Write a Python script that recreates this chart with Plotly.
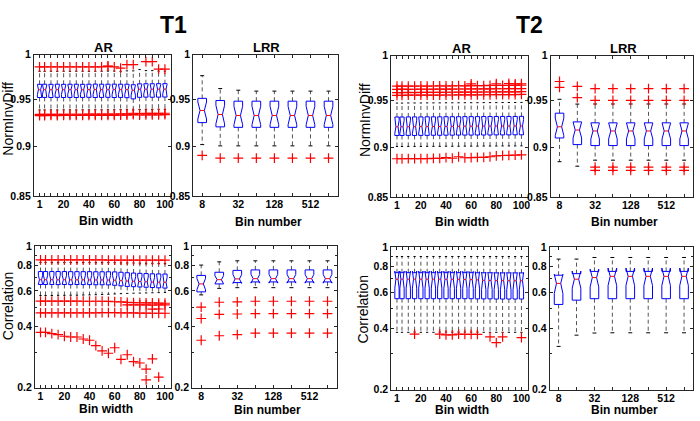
import math
import plotly.graph_objects as go

# ---------------- data ----------------
ar_widths = [1, 5, 10, 15, 20, 25, 30, 35, 40, 45, 50, 55, 60, 65, 70, 75, 80, 85, 90, 95, 100]
ar_labels = ["1", "", "", "", "20", "", "", "", "40", "", "", "", "60", "", "", "", "80", "", "", "", "100"]
lrr_bins = [8, 16, 32, 64, 128, 256, 512, 1024]
lrr_labels = ["8", "", "32", "", "128", "", "512", ""]

nid_ticks = [0.85, 0.9, 0.95, 1]
nid_ticktext = ["0.85", "0.9", "0.95", "1"]
cor_ticks = [0.2, 0.4, 0.6, 0.8, 1]
cor_ticktext = ["0.2", "0.4", "0.6", "0.8", "1"]

# T1 - AR - NormInvDiff
t1_ar_nid_q1 = [0.9520, 0.9521, 0.9520, 0.9522, 0.9520, 0.9521, 0.9520, 0.9521, 0.9522, 0.9520, 0.9521,
                0.9522, 0.9520, 0.9521, 0.9518, 0.9505, 0.9522, 0.9524, 0.9523, 0.9524, 0.9525]
t1_ar_nid_med = [0.9605, 0.9606, 0.9605, 0.9606, 0.9605, 0.9606, 0.9606, 0.9605, 0.9606, 0.9607, 0.9606,
                 0.9606, 0.9607, 0.9606, 0.9606, 0.9600, 0.9610, 0.9611, 0.9611, 0.9612, 0.9612]
t1_ar_nid_q3 = [0.9665, 0.9666, 0.9665, 0.9666, 0.9665, 0.9666, 0.9666, 0.9665, 0.9666, 0.9667, 0.9666,
                0.9666, 0.9667, 0.9666, 0.9666, 0.9660, 0.9670, 0.9671, 0.9671, 0.9672, 0.9672]
t1_ar_nid_lo = [0.9385, 0.9385, 0.9386, 0.9385, 0.9386, 0.9386, 0.9385, 0.9386, 0.9386, 0.9387, 0.9386,
                0.9387, 0.9387, 0.9388, 0.9388, 0.9385, 0.9390, 0.9391, 0.9391, 0.9392, 0.9392]
t1_ar_nid_hi = [0.9810, 0.9810, 0.9811, 0.9810, 0.9811, 0.9810, 0.9811, 0.9811, 0.9810, 0.9811, 0.9811,
                0.9812, 0.9812, 0.9810, 0.9815, 0.9815, 0.9830, 0.9818, 0.9818, 0.9812, 0.9812]
t1_ar_nid_out = [
    [0.986, 0.9325, 0.9338], [0.986, 0.9325, 0.9338], [0.986, 0.9326, 0.9338], [0.986, 0.9325, 0.9339],
    [0.986, 0.9326, 0.9338], [0.986, 0.9326, 0.9339], [0.986, 0.9326, 0.9339], [0.986, 0.9327, 0.9339],
    [0.986, 0.9327, 0.9340], [0.986, 0.9327, 0.9340], [0.986, 0.9328, 0.9340], [0.9865, 0.9870, 0.9328, 0.9341],
    [0.986, 0.9328, 0.9341], [0.9845, 0.9329, 0.9342], [0.9885, 0.9329, 0.9342], [0.9885, 0.9335, 0.9350],
    [0.9331, 0.9345], [0.992, 0.9332, 0.9348], [0.992, 0.9333, 0.9348], [0.9835, 0.9333, 0.9349],
    [0.9835, 0.9334, 0.9350]]

# T1 - LRR - NormInvDiff
t1_lrr_nid_q1 = [0.9250, 0.9205, 0.9200, 0.9200, 0.9200, 0.9200, 0.9200, 0.9200]
t1_lrr_nid_med = [0.9380, 0.9336, 0.9326, 0.9326, 0.9326, 0.9326, 0.9326, 0.9326]
t1_lrr_nid_q3 = [0.9511, 0.9487, 0.9480, 0.9480, 0.9480, 0.9480, 0.9480, 0.9480]
t1_lrr_nid_lo = [0.9020, 0.9007, 0.9007, 0.9007, 0.9007, 0.9007, 0.9007, 0.9007]
t1_lrr_nid_hi = [0.9761, 0.9618, 0.9600, 0.9590, 0.9590, 0.9590, 0.9590, 0.9590]
t1_lrr_nid_out = [[0.8910], [0.8881], [0.8881], [0.8881], [0.8881], [0.8881], [0.8881], [0.8881]]

# T2 - AR - NormInvDiff
t2_ar_nid_q1 = [0.9125, 0.9125, 0.9126, 0.9125, 0.9126, 0.9126, 0.9127, 0.9127, 0.9128, 0.9128, 0.9129,
                0.9129, 0.9129, 0.9130, 0.9130, 0.9130, 0.9131, 0.9131, 0.9131, 0.9132, 0.9132]
t2_ar_nid_med = [0.9216, 0.9216, 0.9217, 0.9217, 0.9218, 0.9218, 0.9219, 0.9219, 0.9220, 0.9221, 0.9221,
                 0.9222, 0.9222, 0.9223, 0.9223, 0.9223, 0.9224, 0.9224, 0.9224, 0.9225, 0.9225]
t2_ar_nid_q3 = [0.9320, 0.9320, 0.9321, 0.9321, 0.9321, 0.9322, 0.9322, 0.9322, 0.9323, 0.9323, 0.9323,
                0.9324, 0.9324, 0.9324, 0.9325, 0.9325, 0.9325, 0.9326, 0.9326, 0.9326, 0.9327]
t2_ar_nid_lo = [0.9010, 0.9010, 0.9011, 0.9011, 0.9011, 0.9012, 0.9012, 0.9012, 0.9013, 0.9013, 0.9013,
                0.9014, 0.9014, 0.9014, 0.9015, 0.9015, 0.9015, 0.9016, 0.9016, 0.9016, 0.9017]
t2_ar_nid_hi = [0.9470, 0.9470, 0.9471, 0.9471, 0.9471, 0.9472, 0.9472, 0.9472, 0.9473, 0.9473, 0.9473,
                0.9474, 0.9474, 0.9474, 0.9475, 0.9475, 0.9475, 0.9476, 0.9476, 0.9476, 0.9477]
t2_ar_nid_out = [
    [0.9555, 0.9585, 0.9620, 0.9655, 0.8885], [0.9555, 0.9585, 0.9622, 0.9655, 0.8885],
    [0.9556, 0.9586, 0.9620, 0.9656, 0.8886], [0.9556, 0.9585, 0.9621, 0.9655, 0.8886],
    [0.9556, 0.9586, 0.9622, 0.9657, 0.8887], [0.9557, 0.9586, 0.9621, 0.9656, 0.8887],
    [0.9557, 0.9587, 0.9622, 0.9657, 0.8888], [0.9557, 0.9587, 0.9623, 0.9658, 0.8888],
    [0.9558, 0.9588, 0.9622, 0.9657, 0.8896], [0.9558, 0.9588, 0.9623, 0.9658, 0.8890],
    [0.9559, 0.9589, 0.9624, 0.9660, 0.8905], [0.9559, 0.9589, 0.9624, 0.9659, 0.8895],
    [0.9560, 0.9590, 0.9625, 0.9662, 0.9680, 0.8897], [0.9560, 0.9590, 0.9625, 0.9661, 0.8898],
    [0.9561, 0.9591, 0.9626, 0.9662, 0.8899], [0.9561, 0.9591, 0.9626, 0.9663, 0.8905],
    [0.9562, 0.9592, 0.9627, 0.9664, 0.9682, 0.8915], [0.9562, 0.9592, 0.9627, 0.9663, 0.8918],
    [0.9563, 0.9593, 0.9628, 0.9665, 0.9685, 0.8920], [0.9563, 0.9593, 0.9628, 0.9665, 0.9680, 0.8922],
    [0.9564, 0.9594, 0.9629, 0.9666, 0.9682, 0.8925]]

# T2 - LRR - NormInvDiff
t2_lrr_nid_q1 = [0.9099, 0.9030, 0.9020, 0.9020, 0.9020, 0.9020, 0.9020, 0.9020]
t2_lrr_nid_med = [0.9216, 0.9182, 0.9172, 0.9172, 0.9172, 0.9172, 0.9172, 0.9172]
t2_lrr_nid_q3 = [0.9361, 0.9268, 0.9258, 0.9258, 0.9258, 0.9258, 0.9258, 0.9258]
t2_lrr_nid_lo = [0.8855, 0.8809, 0.8870, 0.8870, 0.8870, 0.8870, 0.8870, 0.8870]
t2_lrr_nid_hi = [0.9511, 0.9459, 0.9460, 0.9460, 0.9460, 0.9460, 0.9460, 0.9460]
t2_lrr_nid_out = [[0.9707, 0.9643], [0.9653, 0.9529],
                  [0.9629, 0.9500, 0.8799, 0.8767], [0.9629, 0.9500, 0.8799, 0.8767],
                  [0.9629, 0.9500, 0.8799, 0.8767], [0.9629, 0.9500, 0.8799, 0.8767],
                  [0.9629, 0.9500, 0.8799, 0.8767], [0.9629, 0.9500, 0.8799, 0.8767]]

# T1 - AR - Correlation
t1_ar_cor_q1 = [0.646, 0.646, 0.646, 0.645, 0.646, 0.645, 0.646, 0.645, 0.645, 0.644, 0.644,
                0.643, 0.640, 0.636, 0.632, 0.630, 0.628, 0.626, 0.624, 0.622, 0.620]
t1_ar_cor_med = [0.682, 0.682, 0.682, 0.681, 0.682, 0.681, 0.681, 0.681, 0.680, 0.680, 0.680,
                 0.679, 0.678, 0.675, 0.672, 0.670, 0.668, 0.666, 0.664, 0.663, 0.662]
t1_ar_cor_q3 = [0.748, 0.748, 0.748, 0.748, 0.748, 0.747, 0.747, 0.747, 0.747, 0.746, 0.746,
                0.746, 0.745, 0.742, 0.738, 0.735, 0.733, 0.731, 0.729, 0.728, 0.727]
t1_ar_cor_lo = [0.570, 0.570, 0.570, 0.571, 0.571, 0.572, 0.572, 0.573, 0.574, 0.575, 0.576,
                0.578, 0.580, 0.582, 0.584, 0.585, 0.586, 0.587, 0.588, 0.589, 0.590]
t1_ar_cor_hi = [0.830, 0.830, 0.830, 0.830, 0.829, 0.829, 0.829, 0.829, 0.828, 0.828, 0.828,
                0.828, 0.827, 0.826, 0.825, 0.824, 0.823, 0.822, 0.821, 0.820, 0.820]
t1_ar_cor_out = [
    [0.853, 0.535, 0.468, 0.375], [0.853, 0.535, 0.468, 0.375], [0.853, 0.535, 0.468, 0.370],
    [0.853, 0.535, 0.468, 0.366], [0.853, 0.535, 0.468, 0.359], [0.853, 0.535, 0.468, 0.356],
    [0.853, 0.535, 0.468, 0.356], [0.853, 0.534, 0.468, 0.348], [0.853, 0.534, 0.468, 0.343],
    [0.853, 0.534, 0.468, 0.323], [0.853, 0.534, 0.469, 0.304], [0.852, 0.533, 0.469, 0.296],
    [0.852, 0.531, 0.469, 0.315], [0.852, 0.530, 0.468, 0.276], [0.852, 0.527, 0.512, 0.468, 0.291],
    [0.852, 0.526, 0.513, 0.468, 0.269], [0.852, 0.525, 0.512, 0.467, 0.265],
    [0.852, 0.524, 0.513, 0.467, 0.219, 0.247], [0.851, 0.524, 0.511, 0.488, 0.466, 0.278],
    [0.851, 0.523, 0.512, 0.489, 0.466, 0.226], [0.851, 0.522, 0.512, 0.466]]

# T1 - LRR - Correlation
t1_lrr_cor_q1 = [0.594, 0.650, 0.660, 0.665, 0.665, 0.665, 0.665, 0.665]
t1_lrr_cor_med = [0.650, 0.682, 0.688, 0.690, 0.690, 0.690, 0.690, 0.690]
t1_lrr_cor_q3 = [0.716, 0.742, 0.758, 0.762, 0.762, 0.762, 0.762, 0.762]
t1_lrr_cor_lo = [0.574, 0.618, 0.623, 0.623, 0.623, 0.623, 0.623, 0.623]
t1_lrr_cor_hi = [0.805, 0.835, 0.845, 0.845, 0.845, 0.845, 0.845, 0.845]
t1_lrr_cor_out = [[0.499, 0.439, 0.343], [0.528, 0.460, 0.361], [0.530, 0.462, 0.366],
                  [0.534, 0.464, 0.372], [0.534, 0.464, 0.372], [0.534, 0.464, 0.372],
                  [0.534, 0.464, 0.372], [0.534, 0.464, 0.372]]

# T2 - AR - Correlation
t2_ar_cor_q1 = [0.558, 0.558, 0.558, 0.558, 0.558, 0.558, 0.558, 0.558, 0.558, 0.558, 0.558,
                0.558, 0.558, 0.557, 0.557, 0.557, 0.556, 0.556, 0.556, 0.556, 0.556]
t2_ar_cor_med = [0.695, 0.695, 0.695, 0.695, 0.695, 0.695, 0.695, 0.695, 0.694, 0.694, 0.694,
                 0.693, 0.692, 0.690, 0.686, 0.685, 0.684, 0.684, 0.683, 0.683, 0.683]
t2_ar_cor_q3 = [0.748, 0.748, 0.748, 0.748, 0.748, 0.748, 0.748, 0.748, 0.748, 0.748, 0.748,
                0.748, 0.748, 0.747, 0.747, 0.747, 0.746, 0.746, 0.746, 0.746, 0.746]
t2_ar_cor_lo = [0.382, 0.382, 0.382, 0.383, 0.382, 0.382, 0.382, 0.383, 0.383, 0.383, 0.383,
                0.383, 0.383, 0.383, 0.382, 0.382, 0.382, 0.382, 0.382, 0.382, 0.382]
t2_ar_cor_hi = [0.898, 0.898, 0.898, 0.898, 0.898, 0.898, 0.898, 0.898, 0.898, 0.898, 0.898,
                0.898, 0.898, 0.898, 0.898, 0.898, 0.898, 0.898, 0.898, 0.898, 0.898]
t2_ar_cor_out = [[], [], [], [0.374], [], [], [], [0.374], [0.371], [0.371], [0.374],
                 [0.373], [0.373], [0.373], [], [0.363], [0.340], [0.363], [], [], [0.360]]

# T2 - LRR - Correlation
t2_lrr_cor_q1 = [0.523, 0.549, 0.558, 0.558, 0.558, 0.558, 0.558, 0.558]
t2_lrr_cor_med = [0.663, 0.695, 0.708, 0.718, 0.718, 0.718, 0.718, 0.718]
t2_lrr_cor_q3 = [0.727, 0.740, 0.759, 0.759, 0.759, 0.759, 0.759, 0.759]
t2_lrr_cor_lo = [0.326, 0.370, 0.379, 0.380, 0.380, 0.380, 0.380, 0.380]
t2_lrr_cor_hi = [0.872, 0.872, 0.888, 0.888, 0.888, 0.888, 0.888, 0.888]
t2_lrr_cor_out = [[], [], [], [], [], [], [], []]

# ---------------- style / layout ----------------
W, H = 700, 421
FONT = "Liberation Sans"
BLUE = "#0000ff"
RED = "#ff0000"
AXC = "#262626"

# panel pixel boxes (left, right, top, bottom)
panels = [
    (34, 172, 50, 196), (194, 339, 50, 196), (393, 530, 51, 197), (553, 696, 51, 197),
    (35, 172, 247, 393), (193, 338, 247, 393), (393, 530, 248, 395), (552, 696, 248, 395),
]


def lin_off(x, d):
    return x + d


def log_off(x, d):
    return x * 2 ** d


def add_boxes(fig, n, xs, q1, med, q3, lo, hi, outs, off, half, cap):
    xa = "x" if n == 1 else "x%d" % n
    ya = "y" if n == 1 else "y%d" % n
    bx, by, mx, my, wx, wy, cx, cy, ox, oy = [], [], [], [], [], [], [], [], [], []
    for i, x in enumerate(xs):
        iqr = q3[i] - q1[i]
        nlo = med[i] - 0.35 * iqr
        nhi = med[i] + 0.35 * iqr
        L, R = off(x, -half), off(x, half)
        l2, r2 = off(x, -half / 2), off(x, half / 2)
        bx += [L, L, l2, L, L, R, R, r2, R, R, L, None]
        by += [q1[i], nlo, med[i], nhi, q3[i], q3[i], nhi, med[i], nlo, q1[i], q1[i], None]
        mx += [l2, r2, None]
        my += [med[i], med[i], None]
        wx += [x, x, None, x, x, None]
        wy += [q3[i], hi[i], None, q1[i], lo[i], None]
        cx += [off(x, -cap), off(x, cap), None, off(x, -cap), off(x, cap), None]
        cy += [hi[i], hi[i], None, lo[i], lo[i], None]
        for v in outs[i]:
            ox.append(x)
            oy.append(v)
    common = dict(xaxis=xa, yaxis=ya, showlegend=False, hoverinfo="skip")
    fig.add_trace(go.Scatter(x=wx, y=wy, mode="lines",
                             line=dict(color="#555555", width=1, dash="4px,3px"), **common))
    fig.add_trace(go.Scatter(x=cx, y=cy, mode="lines", line=dict(color="#000000", width=1), **common))
    fig.add_trace(go.Scatter(x=bx, y=by, mode="lines", line=dict(color=BLUE, width=1), **common))
    fig.add_trace(go.Scatter(x=mx, y=my, mode="lines", line=dict(color=RED, width=1), **common))
    fig.add_trace(go.Scatter(x=ox, y=oy, mode="markers",
                             marker=dict(symbol="cross-thin", size=7, color=RED,
                                         line=dict(color=RED, width=1.2)), **common))


fig = go.Figure()

AR_HALF, AR_CAP = 1.7, 0.9
LRR_HALF, LRR_CAP = 0.24, 0.11

add_boxes(fig, 1, ar_widths, t1_ar_nid_q1, t1_ar_nid_med, t1_ar_nid_q3, t1_ar_nid_lo, t1_ar_nid_hi,
          t1_ar_nid_out, lin_off, AR_HALF, AR_CAP)
add_boxes(fig, 2, lrr_bins, t1_lrr_nid_q1, t1_lrr_nid_med, t1_lrr_nid_q3, t1_lrr_nid_lo, t1_lrr_nid_hi,
          t1_lrr_nid_out, log_off, LRR_HALF, LRR_CAP)
add_boxes(fig, 3, ar_widths, t2_ar_nid_q1, t2_ar_nid_med, t2_ar_nid_q3, t2_ar_nid_lo, t2_ar_nid_hi,
          t2_ar_nid_out, lin_off, AR_HALF, AR_CAP)
add_boxes(fig, 4, lrr_bins, t2_lrr_nid_q1, t2_lrr_nid_med, t2_lrr_nid_q3, t2_lrr_nid_lo, t2_lrr_nid_hi,
          t2_lrr_nid_out, log_off, LRR_HALF, LRR_CAP)
add_boxes(fig, 5, ar_widths, t1_ar_cor_q1, t1_ar_cor_med, t1_ar_cor_q3, t1_ar_cor_lo, t1_ar_cor_hi,
          t1_ar_cor_out, lin_off, AR_HALF, AR_CAP)
add_boxes(fig, 6, lrr_bins, t1_lrr_cor_q1, t1_lrr_cor_med, t1_lrr_cor_q3, t1_lrr_cor_lo, t1_lrr_cor_hi,
          t1_lrr_cor_out, log_off, LRR_HALF, LRR_CAP)
add_boxes(fig, 7, ar_widths, t2_ar_cor_q1, t2_ar_cor_med, t2_ar_cor_q3, t2_ar_cor_lo, t2_ar_cor_hi,
          t2_ar_cor_out, lin_off, AR_HALF, AR_CAP)
add_boxes(fig, 8, lrr_bins, t2_lrr_cor_q1, t2_lrr_cor_med, t2_lrr_cor_q3, t2_lrr_cor_lo, t2_lrr_cor_hi,
          t2_lrr_cor_out, log_off, LRR_HALF, LRR_CAP)

tickfont = dict(family=FONT, size=10.5, color="#000000", weight="bold")
layout = dict(width=W, height=H, margin=dict(l=0, r=0, t=0, b=0),
              paper_bgcolor="white", plot_bgcolor="white", showlegend=False)

lrr_range = [math.log10(lrr_bins[0]) - 0.5 * math.log10(2), math.log10(lrr_bins[-1]) + 0.5 * math.log10(2)]
for n in range(1, 9):
    l, r, t, b = panels[n - 1]
    is_ar = n in (1, 3, 5, 7)
    is_top = n <= 4
    xk = "xaxis" if n == 1 else "xaxis%d" % n
    yk = "yaxis" if n == 1 else "yaxis%d" % n
    xd = dict(domain=[l / W, r / W], anchor="y" if n == 1 else "y%d" % n,
              showline=True, linecolor=AXC, linewidth=1, mirror="allticks",
              ticks="inside", ticklen=3, tickcolor=AXC, showgrid=False, zeroline=False,
              tickfont=tickfont, tickmode="array", ticklabelstandoff=-2 if is_top else -1)
    if is_ar:
        xd.update(type="linear", range=[-3.5, 105], tickvals=ar_widths, ticktext=ar_labels)
    else:
        xd.update(type="log", range=lrr_range, tickvals=lrr_bins, ticktext=lrr_labels)
    yd = dict(domain=[1 - b / H, 1 - t / H], anchor="x" if n == 1 else "x%d" % n,
              type="log", showline=True, linecolor=AXC, linewidth=1, mirror="allticks",
              ticks="inside", ticklen=3, tickcolor=AXC, showgrid=False, zeroline=False,
              tickfont=tickfont, tickmode="array")
    if is_top:
        yd.update(range=[math.log10(0.85), 0], tickvals=nid_ticks, ticktext=nid_ticktext)
    else:
        yd.update(range=[math.log10(0.2), 0], tickvals=cor_ticks, ticktext=cor_ticktext,
                  minor=dict(tickmode="array", tickvals=[0.3, 0.5, 0.7, 0.9], ticks="inside",
                             ticklen=2, tickcolor=AXC))
    layout[xk] = xd
    layout[yk] = yd


def ann(text, px, py, size, bold=True, angle=0):
    return dict(text=text, x=px / W, y=1 - py / H, xref="paper", yref="paper",
                showarrow=False, textangle=angle, xanchor="center", yanchor="middle",
                font=dict(family=FONT, size=size, color="#000000",
                          weight="bold" if bold else "normal"))


annotations = [
    ann("T1", 174, 20, 23), ann("T2", 532, 20, 23),
    ann("AR", 104, 43, 13), ann("LRR", 268, 43, 13),
    ann("AR", 463, 44, 13), ann("LRR", 626, 44, 13),
    ann("Bin width", 106, 221, 12), ann("Bin number", 270, 222, 12),
    ann("Bin width", 464, 222, 12), ann("Bin number", 627, 222, 12),
    ann("Bin width", 106, 415, 12), ann("Bin number", 269, 416, 12),
    ann("Bin width", 464, 416, 12), ann("Bin number", 627, 416, 12),
    ann("NormInvDiff", 8, 116, 14, bold=False, angle=-90),
    ann("NormInvDiff", 366, 117, 14, bold=False, angle=-90),
    ann("Correlation", 8, 309, 14, bold=False, angle=-90),
    ann("Correlation", 365, 312, 14, bold=False, angle=-90),
]
layout["annotations"] = annotations
fig.update_layout(**layout)
fig.write_html("out.html", config={"displayModeBar": False},
               post_script="document.body.style.margin='0';document.body.style.padding='0';")
